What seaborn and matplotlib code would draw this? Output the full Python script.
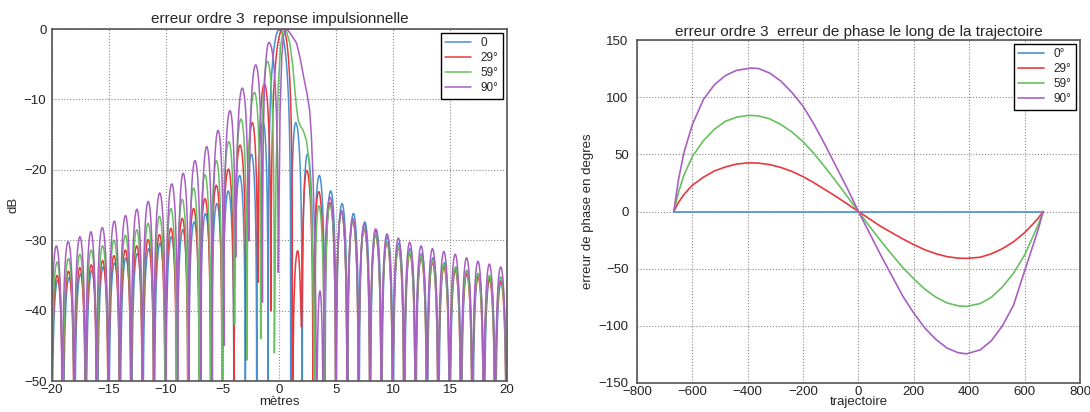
import numpy as np
import pandas as pd
import seaborn as sns
import matplotlib
matplotlib.use("Agg")
import matplotlib.pyplot as plt

# ---- left chart : impulse response (lobe nulls / peaks)
labels_left = ["0", "29°", "59°", "90°"]
labels_right = ["0°", "29°", "59°", "90°"]
colors = ["#4a90d0", "#e8383d", "#66c060", "#a85fc2"]

DEEP = -80

# 0 : plain sinc
blue_null_x = [-20, -19, -18, -17, -16, -15, -14, -13, -12, -11, -10, -9, -8, -7, -6, -5, -4, -3, -2, -1,
               1, 2, 3, 4, 5, 6, 7, 8, 9, 10, 11, 12, 13, 14, 15, 16, 17, 18, 19, 20]
blue_null_db = [DEEP] * 40
blue_peak_x = [-19.5, -18.5, -17.5, -16.5, -15.5, -14.5, -13.5, -12.5, -11.5, -10.5, -9.5, -8.5, -7.5,
               -6.5, -5.5, -4.5, -3.5, -2.46, -1.43, 0, 1.43, 2.46, 3.5, 4.5, 5.5, 6.5, 7.5, 8.5, 9.5,
               10.5, 11.5, 12.5, 13.5, 14.5, 15.5, 16.5, 17.5, 18.5, 19.5]
blue_peak_db = [-35.7, -35.3, -34.8, -34.3, -33.8, -33.2, -32.5, -31.9, -31.2, -30.4, -29.5, -28.5, -27.4,
                -26.2, -24.8, -23.0, -20.8, -17.8, -13.3, 0, -13.3, -17.8, -20.8, -23.0, -24.8, -26.2,
                -27.4, -28.5, -29.5, -30.4, -31.2, -31.9, -32.5, -33.2, -33.8, -34.3, -34.8, -35.3, -35.7]

# 29°
red_null_x = [-20.05, -19.05, -18.05, -17.05, -16.05, -15.05, -14.05, -13.05, -12.05, -11.05, -10.05,
              -9.05, -8.05, -7.05, -6.05, -5.05, -4.0, -2.92, -1.9, -0.75,
              1.15, 1.95, 2.95, 3.95, 4.95, 5.95, 6.95, 7.95, 8.95, 9.95, 10.95, 11.95, 12.95, 13.95,
              14.95, 15.95, 16.95, 17.95, 18.95, 19.95]
red_null_db = [DEEP] * 16 + [-60, -47, -36, -40, -60, -42] + [DEEP] * 18
red_peak_x = [-19.55, -18.55, -17.55, -16.55, -15.55, -14.55, -13.55, -12.55, -11.55, -10.55, -9.55,
              -8.55, -7.55, -6.55, -5.55, -4.48, -3.47, -2.39, -1.33, 0.3, 1.6, 2.39,
              3.45, 4.45, 5.45, 6.45, 7.45, 8.45, 9.45, 10.45, 11.45, 12.45, 13.45, 14.45, 15.45,
              16.45, 17.45, 18.45, 19.45]
red_peak_db = [-35.0, -34.4, -33.9, -33.5, -32.9, -32.2, -31.4, -30.8, -29.9, -29.2, -28.3, -26.9, -25.5,
               -24.1, -22.2, -19.9, -16.5, -13.3, -7.8, 0, -31.5, -20.1, -23.1, -24.7, -26.0, -27.3,
               -28.4, -29.3, -30.3, -31.1, -31.9, -32.6, -33.2, -33.8, -34.3, -34.8, -35.2, -35.6, -35.9]

# 59°
green_null_x = [-20.05, -19.05, -18.05, -17.05, -16.05, -15.05, -14.05, -13.05, -12.05, -11.05, -10.05,
                -9.05, -8.05, -7.05, -6.05, -5.05, -3.95, -2.85, -1.65, -0.45]
green_null_db = [DEEP] * 15 + [-60, -42, -47, -44, -46]
green_peak_x = [-19.55, -18.55, -17.55, -16.55, -15.55, -14.55, -13.55, -12.55, -11.55, -10.55, -9.55,
                -8.55, -7.55, -6.55, -5.55, -4.44, -3.38, -2.2, -1.05]
green_peak_db = [-33.1, -32.6, -32.0, -31.4, -30.8, -30.0, -29.3, -28.5, -27.6, -26.6, -25.5, -24.2,
                 -22.6, -20.7, -18.7, -16.0, -12.8, -9.0, -4.6]
green_main_x = [-0.45, -0.3, -0.1, 0.1, 0.3, 0.45, 0.65, 0.92, 1.15, 1.36, 1.5, 1.65, 1.85, 2.09, 2.38,
                2.62, 2.77, 2.9, 3.0, 3.08]
green_main_db = [-46, -20, -8, -2.5, -0.4, 0, -0.5, -2.1, -5, -8.8, -11.2, -13.0, -13.8, -14.4, -15.9,
                 -19.2, -24, -32, -42, DEEP]
green_rnull_x = [3.08, 3.95, 4.95, 5.95, 6.95, 7.95, 8.95, 9.95, 10.95, 11.95, 12.95, 13.95, 14.95,
                 15.95, 16.95, 17.95, 18.95, 19.95]
green_rnull_db = [DEEP] * 18
green_rpeak_x = [3.45, 4.45, 5.45, 6.45, 7.45, 8.45, 9.45, 10.45, 11.45, 12.45, 13.45, 14.45, 15.45,
                 16.45, 17.45, 18.45, 19.45]
green_rpeak_db = [-25.1, -25.0, -26.0, -27.2, -28.3, -29.2, -30.2, -31.0, -31.7, -32.3, -32.9, -33.4,
                  -33.9, -34.3, -34.7, -35.0, -35.2]

# 90°
purple_null_x = [-20.1, -19.1, -18.05, -17.05, -16.1, -15.05, -14.05, -13.05, -12.05, -11.05, -10.0,
                 -8.95, -7.95, -6.9, -5.9, -4.9, -3.85, -2.7, -1.5, -0.1]
purple_null_db = [DEEP] * 14 + [-55, -45, -32.4, -30.1, -38.8, -34.6]
purple_peak_x = [-19.62, -18.58, -17.55, -16.58, -15.58, -14.52, -13.54, -12.54, -11.54, -10.53, -9.47,
                 -8.47, -7.43, -6.40, -5.40, -4.35, -3.27, -2.09, -0.92]
purple_peak_db = [-30.8, -30.2, -29.5, -28.8, -28.2, -27.3, -26.5, -25.6, -24.5, -23.3, -22.0, -20.5,
                  -18.7, -16.7, -14.4, -11.6, -8.4, -5.1, -1.9]
purple_main_x = [-0.1, 0.05, 0.2, 0.35, 0.55, 0.8, 1.1, 1.5, 1.8, 2.1, 2.4, 2.65, 2.8, 2.95, 3.1, 3.2, 3.27]
purple_main_db = [-34.6, -12, -4, -1, 0, -0.3, -1.0, -2.0, -4.0, -6.6, -9.0, -11.5, -15, -21, -30, -40, DEEP]
purple_rnull_x = [3.27, 3.85, 4.95, 5.95, 6.95, 7.95, 8.95, 9.95, 10.95, 11.95, 12.95, 13.95, 14.95,
                  15.95, 16.95, 17.95, 18.95, 19.95]
purple_rnull_db = [DEEP] * 18
purple_rpeak_x = [3.56, 4.45, 5.45, 6.45, 7.45, 8.45, 9.45, 10.45, 11.45, 12.45, 13.45, 14.45, 15.45,
                  16.45, 17.45, 18.45, 19.45]
purple_rpeak_db = [-37.2, -23.9, -25.8, -26.9, -27.7, -28.4, -29.1, -29.7, -30.3, -30.8, -31.2, -31.6,
                   -32.0, -32.5, -33.0, -33.4, -33.8]

# ---- right chart : phase error along the trajectory
traj = [-667, -650, -630, -600, -560, -520, -480, -440, -400, -385, -360, -320, -280, -240, -200, -160,
        -120, -80, -40, 0, 40, 80, 120, 160, 200, 240, 280, 320, 360, 390, 440, 480, 520, 560, 600,
        630, 650, 667]
phase_0 = [0] * len(traj)
phase_29 = [0, 8, 15, 23, 30, 35.5, 39, 41.5, 42.5, 42.5, 42.3, 41, 38.5, 35, 30.5, 25, 19, 13, 6.5, 0,
            -6.5, -13, -18.5, -24, -29, -33.5, -37, -39.5, -40.8, -41, -40, -37, -32.5, -26.5, -18.5,
            -11, -5.5, 0]
phase_59 = [0, 17, 32, 48, 62, 72, 79, 82.5, 84, 84, 83.5, 81, 76, 69.5, 61, 50.5, 38.5, 26, 13, 0,
            -13, -25.5, -37.5, -49, -59, -68, -75, -80, -82.5, -83, -80.5, -75, -66, -54, -38, -22,
            -11, 0]
phase_90 = [0, 28, 52, 76, 98, 111, 119, 123.5, 125, 125.5, 125, 121, 114, 104, 92, 76, 58, 39, 20, 0,
            -19, -38, -56, -74, -89, -102, -112, -119.5, -123.5, -124.5, -121, -113, -100, -82, -52,
            -30, -15, 0]


def lobes(null_x, null_db, peak_x, peak_db, n=30):
    xs, ys = [], []
    for i in range(len(peak_x)):
        a, p, b = null_x[i], peak_x[i], null_x[i + 1]
        hp = 10 ** (peak_db[i] / 10)
        t = np.linspace(0, 1, n)
        s = np.sin(np.pi / 2 * t)
        xs.append(a + (p - a) * t)
        ys.append(10 * np.log10(hp * s ** 2 + 10 ** (null_db[i] / 10) * (1 - s) ** 2))
        c = np.cos(np.pi / 2 * t)
        xs.append(p + (b - p) * t)
        ys.append(10 * np.log10(hp * c ** 2 + 10 ** (null_db[i + 1] / 10) * (1 - c) ** 2))
    return np.concatenate(xs), np.concatenate(ys)


curves = {}
curves["0"] = lobes(blue_null_x, blue_null_db, blue_peak_x, blue_peak_db)
curves["29°"] = lobes(red_null_x, red_null_db, red_peak_x, red_peak_db)
gl = lobes(green_null_x, green_null_db, green_peak_x, green_peak_db)
gr = lobes(green_rnull_x, green_rnull_db, green_rpeak_x, green_rpeak_db)
curves["59°"] = (np.concatenate([gl[0], green_main_x, gr[0]]),
                 np.concatenate([gl[1], green_main_db, gr[1]]))
pl = lobes(purple_null_x, purple_null_db, purple_peak_x, purple_peak_db)
pr = lobes(purple_rnull_x, purple_rnull_db, purple_rpeak_x, purple_rpeak_db)
curves["90°"] = (np.concatenate([pl[0], purple_main_x, pr[0]]),
                 np.concatenate([pl[1], purple_main_db, pr[1]]))

frames = []
for lab in labels_left:
    x, y = curves[lab]
    frames.append(pd.DataFrame({"x": x, "y": np.maximum(y, -70), "courbe": lab}))
df_left = pd.concat(frames, ignore_index=True)

df_right = pd.concat([
    pd.DataFrame({"x": traj, "y": vals, "courbe": lab})
    for lab, vals in zip(labels_right, [phase_0, phase_29, phase_59, phase_90])
], ignore_index=True)

sns.set_style("white")
plt.rcParams["font.family"] = ["Liberation Sans", "DejaVu Sans"]

fig = plt.figure(figsize=(10.9, 4.12), dpi=100)
ax1 = fig.add_axes([0.0477, 0.0752, 0.4174, 0.8544])
ax2 = fig.add_axes([0.5844, 0.0704, 0.4064, 0.8325])

sns.lineplot(data=df_left, x="x", y="y", hue="courbe", hue_order=labels_left,
             palette=dict(zip(labels_left, colors)), estimator=None, sort=False,
             linewidth=1.1, ax=ax1)
sns.lineplot(data=df_right, x="x", y="y", hue="courbe", hue_order=labels_right,
             palette=dict(zip(labels_right, colors)), estimator=None, sort=False,
             linewidth=1.2, ax=ax2)

ax1.set_xlim(-20, 20)
ax1.set_ylim(-50, 0)
ax1.set_xticks(range(-20, 21, 5))
ax1.set_yticks(range(-50, 1, 10))
ax1.set_title("erreur ordre 3  reponse impulsionnelle", fontsize=11, pad=4)
ax1.set_xlabel("mètres", fontsize=9.5, labelpad=0)
ax1.set_ylabel("dB", fontsize=9.5, labelpad=3)

ax2.set_xlim(-800, 800)
ax2.set_ylim(-150, 150)
ax2.set_xticks(range(-800, 801, 200))
ax2.set_yticks(range(-150, 151, 50))
ax2.set_title("erreur ordre 3  erreur de phase le long de la trajectoire", fontsize=11, pad=3)
ax2.set_xlabel("trajectoire", fontsize=9.5, labelpad=-1)
ax2.set_ylabel("erreur de phase en degres", fontsize=9.5, labelpad=3)

for ax, ypad in ((ax1, 4), (ax2, 6)):
    ax.grid(True, linestyle=":", color="#888888", linewidth=0.8)
    ax.tick_params(length=0, labelsize=9.5, colors="#222222")
    ax.tick_params(axis="x", pad=2)
    ax.tick_params(axis="y", pad=ypad)
    for sp in ax.spines.values():
        sp.set_color("#555555")
        sp.set_linewidth(1.2)
    h, l = ax.get_legend_handles_labels()
    leg = ax.legend(h, l, loc="upper right", fontsize=8.5, frameon=True, fancybox=False,
                    edgecolor="black", framealpha=1, borderaxespad=0.3, handlelength=2.2,
                    labelspacing=0.25)
    leg.get_frame().set_linewidth(1.0)

fig.savefig("out.png", dpi=100)
